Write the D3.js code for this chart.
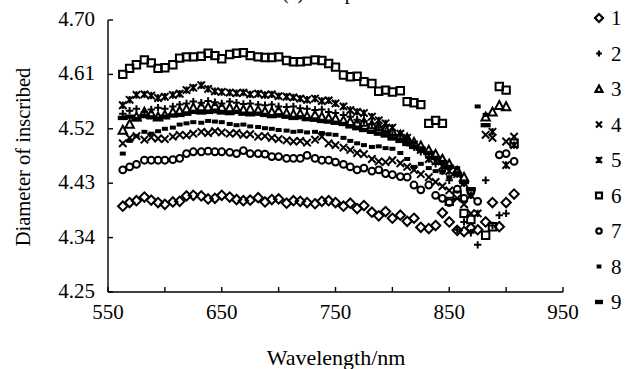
<!DOCTYPE html>
<head>
  <title>Diameter of inscribed vs wavelength</title>
</head>
<style>
html, body {
  width: 100%;
  height: 100%;
  padding: 0;
  margin: 0;
  background: #ffffff;
}

svg text {
  font-family: "Liberation Serif", "Times New Roman", serif;
  fill: #000000;
}

.axis path, .axis line {
  stroke: #000000;
  stroke-width: 1.4px;
  fill: none;
}

.marks path {
  stroke: #000000;
  stroke-linejoin: miter;
}
</style>

<svg width="638" height="369"></svg>

<script src="https://d3js.org/d3.v7.min.js"></script>
<script>
// wavelength grid (nm), one entry per sample
var wavelengths = [563, 569, 575, 582, 588, 594, 600, 607, 613, 619, 625, 632, 638, 644, 650, 657, 663, 669, 675, 682,
  688, 694, 700, 707, 713, 719, 725, 732, 738, 744, 750, 757, 763, 769, 775, 782, 788, 794, 800, 807,
  813, 819, 825, 832, 838, 844, 850, 857, 863, 869, 875, 882, 888, 894, 900, 907];

// one array per sample, null where no point was drawn
var series1 = [4.392, 4.398, 4.401, 4.407, 4.402, 4.398, 4.395, 4.399, 4.400, 4.409, 4.410, 4.409, 4.404, 4.405, 4.410, 4.407, 4.403, 4.401, 4.402, 4.406,
  4.399, 4.403, 4.404, 4.397, 4.401, 4.400, 4.398, 4.396, 4.400, 4.401, 4.398, 4.392, 4.397, 4.388, 4.393, 4.382, 4.376, 4.383, 4.372, 4.377,
  4.367, 4.372, 4.357, 4.355, 4.360, 4.381, 4.366, 4.352, 4.350, 4.356, 4.353, 4.366, 4.398, 4.358, 4.398, 4.412];
var series2 = [4.545, 4.550, 4.553, 4.548, 4.552, 4.555, 4.553, 4.557, 4.560, 4.562, 4.565, 4.563, 4.566, 4.564, 4.562, 4.565, 4.563, 4.561, 4.562, 4.560,
  4.559, 4.560, 4.557, 4.556, 4.557, 4.554, 4.553, 4.551, 4.552, 4.548, 4.546, 4.543, 4.540, 4.535, 4.533, 4.528, 4.522, 4.516, 4.510, 4.503,
  4.497, 4.490, 4.482, 4.472, 4.462, 4.450, 4.435, 4.353, 4.366, 4.348, 4.328, 4.435, 4.360, 4.377, 4.380, null];
var series3 = [4.518, 4.528, 4.540, 4.548, 4.545, 4.540, 4.543, 4.548, 4.550, 4.553, 4.555, 4.557, 4.556, 4.558, 4.556, 4.555, 4.553, 4.552, 4.553, 4.551,
  4.549, 4.548, 4.550, 4.546, 4.544, 4.545, 4.541, 4.543, 4.540, 4.538, 4.537, 4.534, 4.532, 4.530, 4.531, 4.527, 4.524, 4.520, 4.515, 4.510,
  4.505, 4.498, 4.492, 4.485, 4.478, 4.470, 4.462, 4.450, 4.440, null, null, 4.540, 4.548, 4.559, 4.557, null];
var series4 = [4.496, 4.505, 4.508, 4.502, 4.506, 4.504, 4.503, 4.507, 4.510, 4.509, 4.512, 4.515, 4.513, 4.516, 4.514, 4.512, 4.513, 4.510, 4.511, 4.507,
  4.508, 4.505, 4.503, 4.501, 4.499, 4.500, 4.497, 4.502, 4.507, 4.496, 4.493, 4.489, 4.485, 4.480, 4.478, 4.470, 4.466, 4.465, 4.468, 4.463,
  4.457, 4.452, 4.445, 4.440, 4.432, 4.425, 4.418, 4.405, 4.395, 4.380, null, 4.510, 4.505, null, 4.499, 4.507];
var series5 = [4.559, 4.568, 4.576, 4.577, 4.575, 4.571, 4.573, 4.576, 4.578, 4.584, 4.588, 4.592, 4.586, 4.582, 4.581, 4.580, 4.579, 4.580, 4.577, 4.578,
  4.576, 4.577, 4.574, 4.573, 4.572, 4.570, 4.568, 4.570, 4.566, 4.567, 4.562, 4.557, 4.551, 4.548, 4.546, 4.540, 4.534, 4.529, 4.522, 4.512,
  4.505, 4.494, 4.485, 4.470, 4.466, 4.458, 4.450, 4.445, 4.430, 4.410, 4.380, null, 4.515, null, 4.460, 4.493];
var series6 = [4.610, 4.620, 4.626, 4.634, 4.629, 4.620, 4.621, 4.626, 4.637, 4.639, 4.639, 4.640, 4.645, 4.641, 4.636, 4.643, 4.645, 4.646, 4.641, 4.639,
  4.638, 4.638, 4.639, 4.633, 4.631, 4.631, 4.632, 4.634, 4.633, 4.628, 4.622, 4.609, 4.606, 4.607, 4.598, 4.595, 4.582, 4.584, 4.581, 4.583,
  4.565, 4.563, 4.560, 4.529, 4.534, 4.529, 4.400, 4.410, 4.380, 4.370, null, 4.344, 4.358, 4.590, 4.584, 4.496];
var series7 = [4.452, 4.457, 4.461, 4.468, 4.468, 4.468, 4.468, 4.469, 4.471, 4.479, 4.482, 4.482, 4.483, 4.482, 4.482, 4.481, 4.479, 4.484, 4.479, 4.479,
  4.478, 4.474, 4.474, 4.471, 4.471, 4.471, 4.476, 4.471, 4.468, 4.468, 4.465, 4.461, 4.457, 4.452, 4.455, 4.450, 4.452, 4.446, 4.444, 4.441,
  4.440, 4.427, 4.419, 4.427, 4.410, 4.405, 4.398, 4.420, 4.405, 4.415, 4.400, null, null, 4.477, 4.479, 4.466];
var series8 = [4.479, 4.500, 4.508, 4.515, 4.512, 4.516, 4.520, 4.522, 4.527, 4.529, 4.531, 4.530, 4.533, 4.532, 4.531, 4.528, 4.526, 4.527, 4.524, 4.523,
  4.521, 4.520, 4.518, 4.517, 4.515, 4.516, 4.514, 4.515, 4.513, 4.511, 4.510, 4.505, 4.500, 4.496, 4.493, 4.490, 4.491, 4.488, 4.487, 4.480,
  4.470, 4.457, 4.462, 4.455, 4.450, 4.448, 4.440, 4.455, 4.430, null, 4.557, 4.543, null, null, null, null];
var series9 = [4.538, 4.540, 4.536, 4.541, 4.539, 4.537, 4.540, 4.542, 4.543, 4.545, 4.548, 4.547, 4.548, 4.549, 4.547, 4.546, 4.548, 4.545, 4.544, 4.545,
  4.543, 4.541, 4.542, 4.540, 4.538, 4.539, 4.536, 4.535, 4.533, 4.532, 4.530, 4.528, 4.524, 4.521, 4.518, 4.515, 4.512, 4.509, 4.504, 4.500,
  4.495, 4.490, 4.487, 4.480, 4.472, 4.465, 4.457, 4.445, 4.432, 4.420, null, 4.526, null, null, null, null];

var seriesNames = ["1", "2", "3", "4", "5", "6", "7", "8", "9"];
var seriesMarkers = ["diamond", "plus", "triangle", "cross", "star", "square", "circle", "dash", "longdash"];
var allSeries = [series1, series2, series3, series4, series5, series6, series7, series8, series9];

var xTicks = [550, 650, 750, 850, 950];
var xMinorTicks = [600, 700, 800, 900];
var yTicks = [4.25, 4.34, 4.43, 4.52, 4.61, 4.70];

var svg = d3.select("svg");

var x = d3.scaleLinear().domain([550, 950]).range([108, 563]);
var y = d3.scaleLinear().domain([4.25, 4.70]).range([292, 20]);

/**
 * Path for one Excel-style marker, centred on 0,0.
 */
function markerPath(type, k) {
  var s = 3.7 * k;
  switch (type) {
    case "diamond": return "M0," + (-s - 1) + "L" + (s + 1) + ",0L0," + (s + 1) + "L" + (-s - 1) + ",0Z";
    case "square": return "M" + (-s) + "," + (-s) + "H" + s + "V" + s + "H" + (-s) + "Z";
    case "circle": return d3.arc()({innerRadius: 0, outerRadius: s * 0.92, startAngle: 0, endAngle: 2 * Math.PI});
    case "triangle": return "M0," + (-s - 0.5) + "L" + (s + 0.5) + "," + s + "L" + (-s - 0.5) + "," + s + "Z";
    case "plus": return "M" + (-s) + ",0H" + s + "M0," + (-s) + "V" + s;
    case "cross": return "M" + (-s) + "," + (-s) + "L" + s + "," + s + "M" + (-s) + "," + s + "L" + s + "," + (-s);
    case "star": return "M" + (-s) + "," + (-s) + "L" + s + "," + s + "M" + (-s) + "," + s + "L" + s + "," + (-s) + "M0," + (-s) + "V" + s;
    case "dash": return "M" + (-3 * k) + ",-2H" + (3 * k) + "V2H" + (-3 * k) + "Z";
    case "longdash": return "M" + (-5 * k) + ",-2.2H" + (5 * k) + "V2.2H" + (-5 * k) + "Z";
  }
}

function isFilled(type) {
  return type == "dash" || type == "longdash";
}

// axes: only left and bottom, ticks pointing inward
var gx = svg.append("g").attr("class", "axis").attr("transform", "translate(0,292)");
gx.append("line").attr("x1", x(550)).attr("x2", x(950)).attr("y1", 0).attr("y2", 0);
gx.selectAll(".tick").data(xTicks.concat(xMinorTicks)).enter().append("line")
  .attr("x1", function(d) { return x(d); })
  .attr("x2", function(d) { return x(d); })
  .attr("y1", 0).attr("y2", -5);
gx.selectAll("text").data(xTicks).enter().append("text")
  .attr("x", function(d) { return x(d); })
  .attr("y", 27)
  .attr("text-anchor", "middle")
  .attr("font-size", "21px")
  .text(function(d) { return d; });

var gy = svg.append("g").attr("class", "axis").attr("transform", "translate(108,0)");
gy.append("line").attr("x1", 0).attr("x2", 0).attr("y1", y(4.25)).attr("y2", y(4.70));
gy.selectAll(".tick").data(yTicks).enter().append("line")
  .attr("x1", 0).attr("x2", 5)
  .attr("y1", function(d) { return y(d); })
  .attr("y2", function(d) { return y(d); });
gy.selectAll("text").data(yTicks).enter().append("text")
  .attr("x", -13)
  .attr("y", function(d) { return y(d) + 6; })
  .attr("text-anchor", "end")
  .attr("font-size", "21px")
  .text(function(d) { return d.toFixed(2); });

// axis titles and the (cut off) panel title
svg.append("text")
  .attr("transform", "translate(30,157) rotate(-90)")
  .attr("text-anchor", "middle")
  .attr("font-size", "20.5px")
  .text("Diameter of inscribed");

svg.append("text")
  .attr("x", 336).attr("y", 365)
  .attr("text-anchor", "middle")
  .attr("font-size", "22px")
  .text("Wavelength/nm");

svg.append("text")
  .attr("x", 282).attr("y", -1)
  .attr("font-size", "20px")
  .text("(a) Samples");

// data points
var marks = svg.append("g").attr("class", "marks");
allSeries.forEach(function(values, si) {
  var type = seriesMarkers[si];
  var pts = values.map(function(v, i) { return {w: wavelengths[i], v: v}; })
                  .filter(function(d) { return d.v != null; });
  marks.append("g").selectAll("path").data(pts).enter().append("path")
    .attr("transform", function(d) { return "translate(" + x(d.w) + "," + y(d.v) + ")"; })
    .attr("d", markerPath(type, 1))
    .attr("fill", isFilled(type) ? "#000000" : "none")
    .attr("stroke-width", isFilled(type) ? 0 : 2);
});

// legend
var legend = svg.append("g").attr("class", "marks");
seriesNames.forEach(function(name, i) {
  var ly = 18 + i * 35.5;
  legend.append("path")
    .attr("transform", "translate(599," + ly + ")")
    .attr("d", markerPath(seriesMarkers[i], 0.8))
    .attr("fill", isFilled(seriesMarkers[i]) ? "#000000" : "none")
    .attr("stroke-width", isFilled(seriesMarkers[i]) ? 0 : 2.2);
  legend.append("text")
    .attr("x", 611).attr("y", ly + 7)
    .attr("font-size", "21px")
    .text(name);
});
</script>
